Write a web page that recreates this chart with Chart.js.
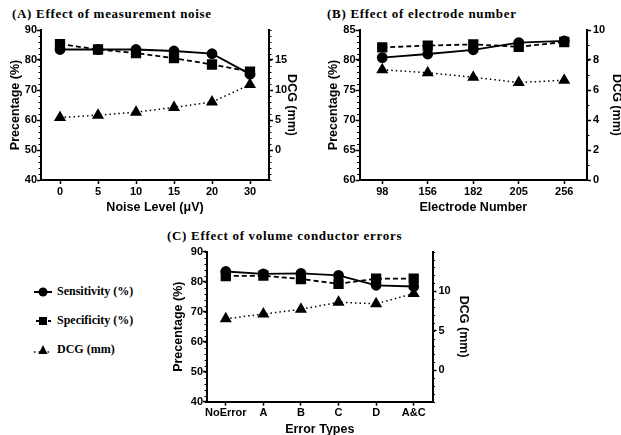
<!DOCTYPE html>
<html>
<head>
<meta charset="utf-8">
<script src="https://cdn.jsdelivr.net/npm/chart.js@4.4.1/dist/chart.umd.min.js"></script>
<style>
  body { margin: 0; background: #fff; }
  #page { position: relative; width: 621px; height: 435px; overflow: hidden; background: #fff; }
  canvas { position: absolute; }
  .ptitle { position: absolute; font: bold 13px "Liberation Serif", "Times New Roman", serif; line-height: 13px; letter-spacing: 0.7px; color: #000; white-space: nowrap; }
  .leg { position: absolute; left: 33px; font: bold 12px "Liberation Serif", "Times New Roman", serif; color: #000; display: flex; align-items: center; white-space: nowrap; }
  .leg svg { margin-right: 4px; }
</style>
</head>
<body>
<div id="page">
  <div class="ptitle" style="left:12px; top:7px;">(A) Effect of measurement noise</div>
  <div class="ptitle" style="left:327px; top:7px;">(B) Effect of electrode number</div>
  <div class="ptitle" style="left:167px; top:229px;">(C) Effect of volume conductor errors</div>

  <canvas id="chartA" width="310" height="215" style="left:0px; top:0px; width:310px; height:215px;"></canvas>
  <canvas id="chartB" width="320" height="215" style="left:310px; top:0px; width:320px; height:215px;"></canvas>
  <canvas id="chartC" width="330" height="222" style="left:150px; top:218px; width:330px; height:222px;"></canvas>

  <div class="leg" style="top:284px;">
    <svg width="20" height="14"><line x1="1" y1="7" x2="19" y2="7" stroke="#000" stroke-width="2"/><circle cx="10" cy="7" r="4.5" fill="#000"/></svg>
    Sensitivity (%)
  </div>
  <div class="leg" style="top:313px;">
    <svg width="20" height="14"><line x1="3" y1="7" x2="19" y2="7" stroke="#000" stroke-width="2" stroke-dasharray="3 3"/><rect x="6" y="3" width="8" height="8" fill="#000"/></svg>
    Specificity (%)
  </div>
  <div class="leg" style="top:342px;">
    <svg width="20" height="14"><line x1="1" y1="9" x2="19" y2="9" stroke="#000" stroke-width="1.5" stroke-dasharray="1.5 3"/><polygon points="10,2 14.5,11 5.5,11" fill="#000"/></svg>
    DCG (mm)
  </div>
</div>

<script>
// (A) measurement noise
const noiseLevels = ['0', '5', '10', '15', '20', '30'];
const sensA = [83.5, 83.5, 83.5, 83.0, 82.1, 75.3];
const specA = [85.3, 83.5, 82.3, 80.6, 78.5, 76.1];
const dcgA = [5.4, 5.8, 6.3, 7.1, 8.0, 10.9];

// (B) electrode number
const electrodeNumbers = ['98', '156', '182', '205', '256'];
const sensB = [80.4, 81.0, 81.7, 82.9, 83.2];
const specB = [82.1, 82.4, 82.6, 82.2, 83.0];
const dcgB = [7.35, 7.15, 6.85, 6.5, 6.65];

// (C) volume conductor errors
const errorTypes = ['NoError', 'A', 'B', 'C', 'D', 'A&C'];
const sensC = [83.4, 82.6, 82.8, 82.1, 78.8, 78.4];
const specC = [81.9, 82.0, 80.9, 79.3, 81.0, 81.0];
const dcgC = [6.5, 7.1, 7.7, 8.6, 8.4, 9.7];

// tick labels
const pctTicksA = [40, 50, 60, 70, 80, 90];
const dcgTicksA = [0, 5, 10, 15];
const pctTicksB = [60, 65, 70, 75, 80, 85];
const dcgTicksB = [0, 2, 4, 6, 8, 10];
const pctTicksC = [40, 50, 60, 70, 80, 90];
const dcgTicksC = [0, 5, 10];

const tickFont = { family: 'Liberation Sans, Arial, sans-serif', weight: 'bold', size: 11 };
const titleFont = { family: 'Liberation Sans, Arial, sans-serif', weight: 'bold', size: 12.5 };

// short unlabeled ticks between the major ones
const minorTicks = {
  id: 'minorTicks',
  afterDraw(chart, args, opts) {
    const ctx = chart.ctx;
    ctx.save();
    ctx.strokeStyle = '#000';
    ctx.lineWidth = 1;
    Object.keys(opts.steps || {}).forEach(id => {
      const scale = chart.scales[id];
      const step = opts.steps[id];
      const left = scale.position === 'left';
      const x0 = left ? scale.right : scale.left;
      const dir = left ? -1 : 1;
      for (let v = Math.ceil(scale.min / step) * step; v <= scale.max + 1e-9; v += step) {
        const y = Math.round(scale.getPixelForValue(v)) + 0.5;
        ctx.beginPath();
        ctx.moveTo(x0, y);
        ctx.lineTo(x0 + dir * 2.5, y);
        ctx.stroke();
      }
    });
    ctx.restore();
  }
};

function axisGrid() {
  return { drawOnChartArea: false, drawTicks: true, tickLength: 4, tickColor: '#000', tickWidth: 1.5, offset: false };
}

function makeChart(id, labels, sens, spec, dcg, o) {
  const config = {
    type: 'line',
    data: {
      labels: labels,
      datasets: [
        {
          label: 'Sensitivity (%)', data: sens, yAxisID: 'y',
          borderColor: '#000', backgroundColor: '#000', borderWidth: 1.8,
          pointStyle: 'circle', pointRadius: 4.5, tension: 0
        },
        {
          label: 'Specificity (%)', data: spec, yAxisID: 'y',
          borderColor: '#000', backgroundColor: '#000', borderWidth: 1.8, borderDash: [5, 3],
          pointStyle: 'rect', pointRadius: 6, tension: 0
        },
        {
          label: 'DCG (mm)', data: dcg, yAxisID: 'y1',
          borderColor: '#000', backgroundColor: '#000', borderWidth: 1.5, borderDash: [1.5, 3],
          pointStyle: 'triangle', pointRadius: 5.5, tension: 0
        }
      ]
    },
    options: {
      responsive: false,
      animation: false,
      layout: { padding: o.padding },
      plugins: {
        legend: { display: false },
        tooltip: { enabled: false },
        minorTicks: { steps: { y: o.minorY, y1: o.minorY1 } }
      },
      scales: {
        x: {
          type: 'category', offset: true,
          grid: axisGrid(),
          border: { display: true, color: '#000', width: 2 },
          ticks: { color: '#000', font: tickFont, padding: 1, maxRotation: 0, autoSkip: false },
          title: { display: true, text: o.xTitle, color: '#000', font: titleFont, padding: 0 },
          afterFit: s => { s.height = o.xHeight; }
        },
        y: {
          position: 'left', min: o.yMin, max: o.yMax,
          grid: axisGrid(),
          border: { display: true, color: '#000', width: 2 },
          ticks: { color: '#000', font: tickFont, padding: 0 },
          afterBuildTicks: s => { s.ticks = o.yTicks.map(v => ({ value: v })); },
          title: { display: true, text: 'Precentage (%)', color: '#000', font: titleFont, padding: 0 },
          afterFit: s => { s.width = o.yWidth; }
        },
        y1: {
          position: 'right', min: o.y1Min, max: o.y1Max,
          grid: axisGrid(),
          border: { display: true, color: '#000', width: 2 },
          ticks: { color: '#000', font: tickFont, padding: 2 },
          afterBuildTicks: s => { s.ticks = o.y1Ticks.map(v => ({ value: v })); },
          title: { display: true, text: 'DCG (mm)', color: '#000', font: titleFont, padding: 0 },
          afterFit: s => { s.width = o.y1Width; }
        }
      }
    },
    plugins: [minorTicks]
  };
  return new Chart(document.getElementById(id), config);
}

makeChart('chartA', noiseLevels, sensA, specA, dcgA, {
  padding: { left: 8, right: 11, top: 30, bottom: 0 },
  xTitle: 'Noise Level (\u03bcV)', xHeight: 35,
  yMin: 40, yMax: 90, yTicks: pctTicksA, yWidth: 33, minorY: 2,
  y1Min: -5, y1Max: 20, y1Ticks: dcgTicksA, y1Width: 30, minorY1: 1
});

makeChart('chartB', electrodeNumbers, sensB, specB, dcgB, {
  padding: { left: 16, right: 6, top: 30, bottom: 0 },
  xTitle: 'Electrode Number', xHeight: 35,
  yMin: 60, yMax: 85, yTicks: pctTicksB, yWidth: 33.5, minorY: 1,
  y1Min: 0, y1Max: 10, y1Ticks: dcgTicksB, y1Width: 37, minorY1: 1
});

makeChart('chartC', errorTypes, sensC, specC, dcgC, {
  padding: { left: 21, right: 9.5, top: 33.7, bottom: 2.8 },
  xTitle: 'Error Types', xHeight: 35.5,
  yMin: 40, yMax: 90, yTicks: pctTicksC, yWidth: 36, minorY: 2,
  y1Min: -4, y1Max: 15, y1Ticks: dcgTicksC, y1Width: 38, minorY1: 1
});
</script>
</body>
</html>
